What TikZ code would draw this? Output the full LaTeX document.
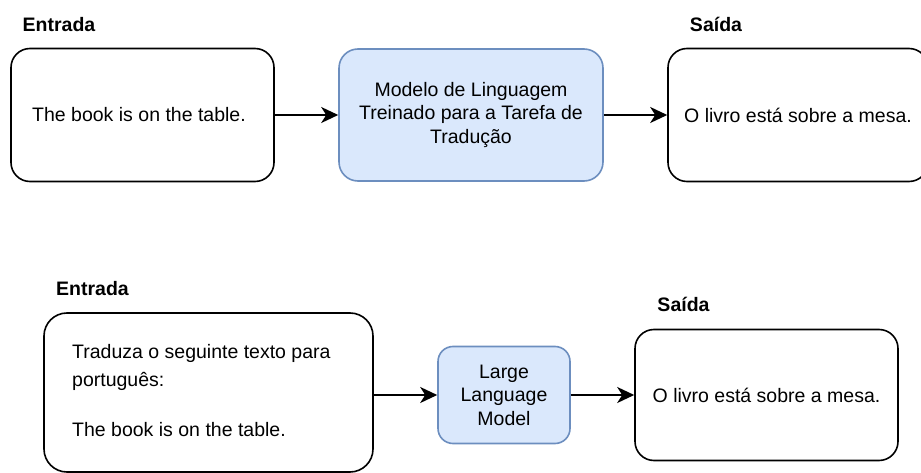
\documentclass[tikz,border=0pt]{standalone}
\usepackage{fontspec}
\setmainfont{Liberation Sans}
\usetikzlibrary{arrows.meta}
\definecolor{llmfill}{HTML}{DAE8FC}
\definecolor{llmline}{HTML}{6C8EBF}
\newcommand{\diagfont}{\fontsize{19.5}{23.5}\selectfont}
\tikzset{
  box/.style={draw=black, fill=white, line width=1.6pt, inner sep=0pt, align=center},
  llmbox/.style={box, draw=llmline, fill=llmfill},
  title/.style={font=\diagfont\bfseries, inner sep=0pt},
  flow/.style={draw=black, line width=2.2pt, -{Stealth[length=17pt,width=16pt,inset=5pt]}},
}
\begin{document}
\begin{tikzpicture}[x=1pt,y=-1pt,font=\diagfont]
\useasboundingbox (0,0) rectangle (921,473);

% top row: dedicated translation model
\node[title] (t1in) at (59,24.5) {Entrada};
\node[title] (t1out) at (716,24.5) {Saída};
\node[box, rounded corners=19pt, minimum width=263pt, minimum height=133pt] (in1) at (142.5,115) {\hspace*{-7pt}The book is on the table.};
\node[llmbox, rounded corners=19pt, minimum width=264pt, minimum height=132pt] (mt) at (471,115) {Modelo de Linguagem\\Treinado para a Tarefa de\\Tradução};
\node[box, rounded corners=19pt, minimum width=260pt, minimum height=133pt] (out1) at (798,115) {O livro está sobre a mesa.};
\draw[flow] (in1.east) -- (mt.west);
\draw[flow] (mt.east) -- (out1.west);

% bottom row: general-purpose language model with an instruction
\node[title] (t2in) at (92.5,288.5) {Entrada};
\node[title] (t2out) at (683.5,304) {Saída};
\node[box, rounded corners=23pt, minimum width=329pt, minimum height=159pt] (in2) at (208.5,392.5) {};
\node[inner sep=0pt, anchor=north west, align=left] (prompt) at (72,344) {Traduza o seguinte texto para\\[4.5pt]português:\\[26.5pt]The book is on the table.};
\node[llmbox, rounded corners=15pt, minimum width=132pt, minimum height=97pt] (llm) at (504,395) {Large\\Language\\Model};
\node[box, rounded corners=19pt, minimum width=263pt, minimum height=131pt] (out2) at (766.5,395) {O livro está sobre a mesa.};
\draw[flow] (in2.east |- llm.west) -- (llm.west);
\draw[flow] (llm.east) -- (out2.west);
\end{tikzpicture}
\end{document}
